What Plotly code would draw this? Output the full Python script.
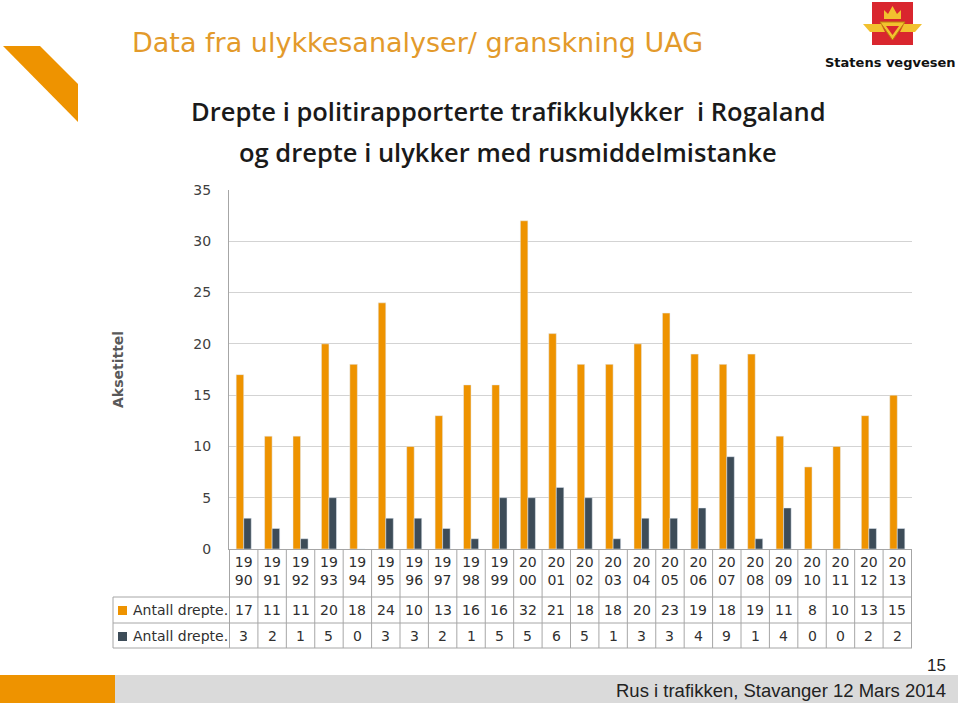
import plotly.graph_objects as go

years = ["19<br>90", "19<br>91", "19<br>92", "19<br>93", "19<br>94", "19<br>95",
         "19<br>96", "19<br>97", "19<br>98", "19<br>99", "20<br>00", "20<br>01",
         "20<br>02", "20<br>03", "20<br>04", "20<br>05", "20<br>06", "20<br>07",
         "20<br>08", "20<br>09", "20<br>10", "20<br>11", "20<br>12", "20<br>13"]
drepte_alle = [17, 11, 11, 20, 18, 24, 10, 13, 16, 16, 32, 21,
               18, 18, 20, 23, 19, 18, 19, 11, 8, 10, 13, 15]
drepte_rus = [3, 2, 1, 5, 0, 3, 3, 2, 1, 5, 5, 6,
              5, 1, 3, 3, 4, 9, 1, 4, 0, 0, 2, 2]
serie_navn = ["Antall drepte.", "Antall drepte."]

ORANGE = "#EE9300"
SLATE = "#3D4C58"
GRID = "#D3D3D3"
TXT = "#404040"
FONT = "DejaVu Sans"

W, H = 960, 709
L, R, T, B = 229, 912, 190, 549   # plot area in pixels
PW, PH = R - L, B - T


def px(x):
    return (x - L) / PW


def py(y):
    return (B - y) / PH


fig = go.Figure()
fig.add_trace(go.Bar(x=years, y=drepte_alle, name=serie_navn[0],
                     marker_color=ORANGE))
fig.add_trace(go.Bar(x=years, y=drepte_rus, name=serie_navn[1],
                     marker_color=SLATE))

shapes = []
annotations = []

# data table under the chart
row_lines = [597, 623, 648]
row_mid = [610, 636]
n = len(years)
for yline in row_lines:
    shapes.append(dict(type="line", xref="paper", yref="paper",
                       x0=px(113), x1=1, y0=py(yline), y1=py(yline),
                       line=dict(color="#A6A6A6", width=1)))
shapes.append(dict(type="line", xref="paper", yref="paper",
                   x0=px(113), x1=px(113), y0=py(597), y1=py(648),
                   line=dict(color="#A6A6A6", width=1)))
for i in range(n + 1):
    shapes.append(dict(type="line", xref="x", yref="paper",
                       x0=i - 0.5, x1=i - 0.5, y0=0, y1=py(648),
                       line=dict(color="#A6A6A6", width=1)))

for r, (vals, col) in enumerate([(drepte_alle, ORANGE), (drepte_rus, SLATE)]):
    ym = row_mid[r]
    shapes.append(dict(type="rect", xref="paper", yref="paper",
                       x0=px(118), x1=px(127), y0=py(ym + 5), y1=py(ym - 4),
                       fillcolor=col, line=dict(width=0)))
    annotations.append(dict(x=px(131), y=py(ym), xref="paper", yref="paper",
                            text=serie_navn[r], showarrow=False,
                            xanchor="left", yanchor="middle",
                            font=dict(family=FONT, size=14, color="#303030")))
    for i, v in enumerate(vals):
        annotations.append(dict(x=i, y=py(ym), xref="x", yref="paper",
                                text=str(v), showarrow=False,
                                xanchor="center", yanchor="middle",
                                font=dict(family=FONT, size=14, color="#303030")))

# orange corner mark
shapes.append(dict(type="path", xref="paper", yref="paper",
                   path=f"M {px(3)},{py(46)} L {px(40)},{py(46)} L {px(78)},{py(84)} "
                        f"L {px(78)},{py(122)} Z",
                   fillcolor=ORANGE, line=dict(width=0)))

# logo
shapes.append(dict(type="rect", xref="paper", yref="paper",
                   x0=px(872), x1=px(913), y0=py(2), y1=py(45),
                   fillcolor="#D9262E", line=dict(width=0)))
GOLD = "#F2C12E"
shapes.append(dict(type="path", xref="paper", yref="paper",
                   path=f"M {px(880)},{py(22)} L {px(905)},{py(22)} L {px(892.5)},{py(40)} Z",
                   fillcolor=GOLD, line=dict(color="#B8860B", width=1)))
shapes.append(dict(type="path", xref="paper", yref="paper",
                   path=f"M {px(886)},{py(26)} L {px(899)},{py(26)} L {px(892.5)},{py(35)} Z",
                   fillcolor="#D9262E", line=dict(width=0)))
shapes.append(dict(type="path", xref="paper", yref="paper",
                   path=f"M {px(863)},{py(24)} L {px(881)},{py(24)} L {px(885)},{py(32)} "
                        f"L {px(870)},{py(32)} Z",
                   fillcolor=GOLD, line=dict(width=0)))
shapes.append(dict(type="path", xref="paper", yref="paper",
                   path=f"M {px(922)},{py(24)} L {px(904)},{py(24)} L {px(900)},{py(32)} "
                        f"L {px(915)},{py(32)} Z",
                   fillcolor=GOLD, line=dict(width=0)))
shapes.append(dict(type="path", xref="paper", yref="paper",
                   path=f"M {px(884)},{py(19)} L {px(884)},{py(10)} L {px(888)},{py(14)} "
                        f"L {px(892.5)},{py(6)} L {px(897)},{py(14)} L {px(901)},{py(10)} "
                        f"L {px(901)},{py(19)} Z",
                   fillcolor=GOLD, line=dict(width=0)))
annotations.append(dict(x=px(958), y=py(62), xref="paper", yref="paper",
                        text="<b>Statens vegvesen</b>", showarrow=False,
                        xanchor="right", yanchor="middle",
                        font=dict(family=FONT, size=13, color="#111111")))

# footer
shapes.append(dict(type="rect", xref="paper", yref="paper",
                   x0=px(0), x1=px(115), y0=py(675), y1=py(703),
                   fillcolor=ORANGE, line=dict(width=0)))
shapes.append(dict(type="rect", xref="paper", yref="paper",
                   x0=px(115), x1=px(958), y0=py(675), y1=py(703),
                   fillcolor="#DADADA", line=dict(width=0)))
annotations.append(dict(x=px(948), y=py(690), xref="paper", yref="paper",
                        text="Rus i trafikken, Stavanger 12 Mars 2014",
                        showarrow=False, xanchor="right", yanchor="middle",
                        font=dict(family="Liberation Sans Narrow, Liberation Sans",
                                  size=18.5, color="#222222")))
annotations.append(dict(x=px(948), y=py(665), xref="paper", yref="paper",
                        text="15", showarrow=False, xanchor="right", yanchor="middle",
                        font=dict(family="Liberation Sans Narrow, Liberation Sans",
                                  size=17, color="#222222")))

# headings
annotations.append(dict(x=px(130), y=py(42), xref="paper", yref="paper",
                        text="Data fra ulykkesanalyser/ granskning UAG",
                        showarrow=False, xanchor="left", yanchor="middle",
                        font=dict(family=FONT, size=27, color="#E39A2B")))
for txt, yy in [("Drepte i politirapporterte trafikkulykker  i Rogaland", 111),
                ("og drepte i ulykker med rusmiddelmistanke", 152)]:
    annotations.append(dict(x=px(508), y=py(yy), xref="paper", yref="paper",
                            text=txt, showarrow=False,
                            xanchor="center", yanchor="middle",
                            font=dict(family="Open Sans", size=25.5, color="#1A1A1A",
                                      weight=600)))
annotations.append(dict(x=px(118), y=py(370), xref="paper", yref="paper",
                        text="<b>Aksetittel</b>", textangle=-90, showarrow=False,
                        xanchor="center", yanchor="middle",
                        font=dict(family=FONT, size=14, color="#595959")))

fig.update_layout(
    width=W, height=H,
    margin=dict(l=L, r=W - R, t=T, b=H - B),
    paper_bgcolor="white", plot_bgcolor="white",
    barmode="group", bargap=0.47, bargroupgap=0,
    showlegend=False,
    shapes=shapes, annotations=annotations,
    font=dict(family=FONT, size=14, color=TXT),
)
fig.update_xaxes(showline=True, linecolor="#A6A6A6", ticks="", showgrid=False,
                 tickfont=dict(family=FONT, size=14, color="#303030"))
fig.update_yaxes(range=[0, 35], dtick=5, showgrid=True, gridcolor=GRID,
                 showline=True, linecolor="#A6A6A6", ticks="",
                 ticklabelstandoff=14, zeroline=False,
                 tickfont=dict(family=FONT, size=14, color=TXT))

# drop the default page margin so the figure sits at the window's corner
fig.write_html("out.html", config={"displayModeBar": False},
               post_script="document.body.style.margin='0px';")
